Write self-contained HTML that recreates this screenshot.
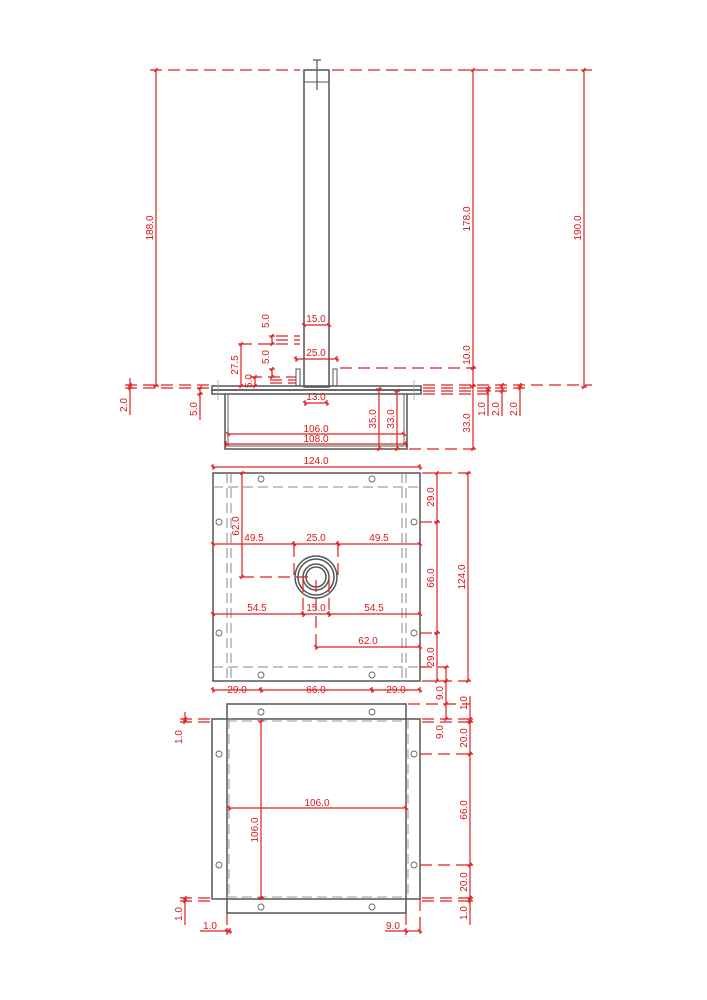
<!DOCTYPE html>
<html><head><meta charset="utf-8"><style>
html,body{margin:0;padding:0;background:#fff}
svg{display:block}
text{font-family:"Liberation Sans",sans-serif;font-size:10px;fill:#d81818}
</style></head><body>
<svg width="707" height="1000" viewBox="0 0 707 1000" xmlns="http://www.w3.org/2000/svg">
<defs>
<marker id="t" viewBox="-4 -4 8 8" markerWidth="8" markerHeight="8" markerUnits="userSpaceOnUse" orient="auto"><path d="M0,-3V3M-2,-1.5L2,1.5" stroke="#e02020" stroke-width="1.2" fill="none"/></marker>
</defs>
<g fill="none" stroke="#555" stroke-width="1.5">
<rect x="304" y="70" width="25" height="317"/>
<line x1="304" y1="82" x2="329" y2="82" stroke-width="0.9"/>
<path d="M313,60 h8 M317,60 v30" stroke-width="1.2"/>
<rect x="296" y="369" width="4" height="17" stroke-width="1"/>
<rect x="333" y="369" width="4" height="17" stroke-width="1"/>
<rect x="212" y="386" width="209" height="4"/>
<rect x="212" y="390" width="209" height="4"/>
<path d="M225,394 V449 H407 V394"/>
<line x1="228" y1="394" x2="228" y2="446" stroke-width="0.9"/>
<line x1="404" y1="394" x2="404" y2="446" stroke-width="0.9"/>
<line x1="228" y1="446" x2="404" y2="446" stroke-width="0.9"/>
<line x1="218" y1="380" x2="218" y2="400" stroke-width="0.7" stroke="#999"/>
<line x1="414" y1="380" x2="414" y2="400" stroke-width="0.7" stroke="#999"/>
<rect x="213" y="473" width="207" height="208"/>
<g stroke="#888" stroke-width="1" stroke-dasharray="10 5">
<line x1="227" y1="473" x2="227" y2="681"/><line x1="231" y1="473" x2="231" y2="681"/>
<line x1="402" y1="473" x2="402" y2="681"/><line x1="406" y1="473" x2="406" y2="681"/>
<line x1="213" y1="487" x2="420" y2="487"/><line x1="213" y1="667" x2="420" y2="667"/>
</g>
<circle cx="316" cy="577" r="21"/><circle cx="316" cy="577" r="18"/>
<circle cx="316" cy="577" r="13"/><circle cx="316" cy="577" r="10"/>
<g stroke="#666" stroke-width="0.9">
<circle cx="261" cy="479" r="3"/><circle cx="372" cy="479" r="3"/>
<circle cx="261" cy="675" r="3"/><circle cx="372" cy="675" r="3"/>
<circle cx="219" cy="522" r="3"/><circle cx="219" cy="633" r="3"/>
<circle cx="414" cy="522" r="3"/><circle cx="414" cy="633" r="3"/>
</g>
<rect x="212" y="719" width="208" height="180"/>
<rect x="227" y="704" width="179" height="209"/>
<g stroke="#999" stroke-width="1" stroke-dasharray="10 5">
<line x1="229" y1="719" x2="229" y2="899"/><line x1="408" y1="719" x2="408" y2="899"/>
<line x1="227" y1="721" x2="406" y2="721"/><line x1="227" y1="897" x2="406" y2="897"/>
</g>
<g stroke="#666" stroke-width="0.9">
<circle cx="261" cy="712" r="3"/><circle cx="372" cy="712" r="3"/>
<circle cx="261" cy="907" r="3"/><circle cx="372" cy="907" r="3"/>
<circle cx="219" cy="754" r="3"/><circle cx="219" cy="865" r="3"/>
<circle cx="414" cy="754" r="3"/><circle cx="414" cy="865" r="3"/>
</g>
</g>

<g stroke="#e02020" stroke-width="1.2" fill="none">
<g stroke-dasharray="12 6">
<line x1="150" y1="70" x2="300" y2="70"/><line x1="332" y1="70" x2="592" y2="70"/>
<line x1="125" y1="385" x2="210" y2="385"/><line x1="125" y1="388" x2="210" y2="388"/>
<line x1="240" y1="344" x2="300" y2="344"/>
<line x1="276" y1="336" x2="300" y2="336"/><line x1="276" y1="340" x2="300" y2="340"/>
<line x1="250" y1="377" x2="296" y2="377"/><line x1="270" y1="380" x2="296" y2="380"/><line x1="270" y1="383" x2="296" y2="383"/>
<line x1="340" y1="368" x2="475" y2="368"/>
<line x1="423" y1="385" x2="592" y2="385"/><line x1="423" y1="388" x2="530" y2="388"/>
<line x1="423" y1="391" x2="510" y2="391"/><line x1="423" y1="394" x2="490" y2="394"/>
<line x1="409" y1="449" x2="475" y2="449"/>
<line x1="422" y1="473" x2="470" y2="473"/><line x1="422" y1="681" x2="470" y2="681"/>
<line x1="420" y1="522" x2="436" y2="522"/><line x1="420" y1="633" x2="436" y2="633"/>
<line x1="242" y1="577" x2="310" y2="577"/>
<line x1="294" y1="545" x2="294" y2="577"/><line x1="338" y1="545" x2="338" y2="577"/>
<line x1="303" y1="610" x2="303" y2="580"/><line x1="329" y1="610" x2="329" y2="580"/>
<line x1="316" y1="580" x2="316" y2="646"/>
<line x1="420" y1="667" x2="445" y2="667"/>
<line x1="408" y1="704" x2="470" y2="704"/>
<line x1="180" y1="719" x2="210" y2="719"/><line x1="180" y1="722" x2="210" y2="722"/>
<line x1="422" y1="719" x2="470" y2="719"/><line x1="422" y1="722" x2="470" y2="722"/>
<line x1="420" y1="754" x2="470" y2="754"/><line x1="420" y1="865" x2="470" y2="865"/>
<line x1="180" y1="898" x2="210" y2="898"/><line x1="180" y1="901" x2="210" y2="901"/>
<line x1="422" y1="898" x2="470" y2="898"/><line x1="422" y1="901" x2="470" y2="901"/>
<line x1="227" y1="913" x2="227" y2="935"/><line x1="406" y1="913" x2="406" y2="935"/><line x1="420" y1="899" x2="420" y2="935"/>
</g>
<g marker-start="url(#t)" marker-end="url(#t)">
<line x1="156" y1="70" x2="156" y2="386"/>
<line x1="473" y1="70" x2="473" y2="368"/>
<line x1="473" y1="368" x2="473" y2="386"/>
<line x1="584" y1="70" x2="584" y2="387"/>
<line x1="304" y1="325" x2="329" y2="325"/>
<line x1="296" y1="359" x2="337" y2="359"/>
<line x1="305" y1="403" x2="327" y2="403"/>
<line x1="241" y1="344" x2="241" y2="386"/>
<line x1="255" y1="377" x2="255" y2="386"/>
<line x1="272" y1="336" x2="272" y2="344"/>
<line x1="272" y1="369" x2="272" y2="377"/>
<line x1="130" y1="385" x2="130" y2="388"/>
<line x1="200" y1="388" x2="200" y2="394"/>
<line x1="228" y1="434" x2="404" y2="434"/>
<line x1="226" y1="444" x2="406" y2="444"/>
<line x1="379" y1="389" x2="379" y2="449"/>
<line x1="397" y1="391" x2="397" y2="449"/>
<line x1="473" y1="386" x2="473" y2="449"/>
<line x1="488" y1="388" x2="488" y2="391"/>
<line x1="502" y1="385" x2="502" y2="391"/>
<line x1="520" y1="385" x2="520" y2="388"/>
<line x1="213" y1="467" x2="420" y2="467"/>
<line x1="242" y1="473" x2="242" y2="577"/>
<line x1="213" y1="544" x2="294" y2="544"/><line x1="294" y1="544" x2="338" y2="544"/><line x1="338" y1="544" x2="420" y2="544"/>
<line x1="213" y1="614" x2="303" y2="614"/><line x1="303" y1="614" x2="329" y2="614"/><line x1="329" y1="614" x2="420" y2="614"/>
<line x1="316" y1="647" x2="420" y2="647"/>
<line x1="437" y1="473" x2="437" y2="522"/><line x1="437" y1="522" x2="437" y2="633"/><line x1="437" y1="633" x2="437" y2="681"/>
<line x1="468" y1="473" x2="468" y2="681"/>
<line x1="213" y1="690" x2="261" y2="690"/><line x1="261" y1="690" x2="372" y2="690"/><line x1="372" y1="690" x2="420" y2="690"/>
<line x1="446" y1="667" x2="446" y2="681"/>
<line x1="446" y1="704" x2="446" y2="719"/>
<line x1="470" y1="719" x2="470" y2="722"/>
<line x1="470" y1="722" x2="470" y2="754"/><line x1="470" y1="754" x2="470" y2="865"/><line x1="470" y1="865" x2="470" y2="898"/>
<line x1="470" y1="898" x2="470" y2="901"/>
<line x1="185" y1="719" x2="185" y2="722"/><line x1="185" y1="898" x2="185" y2="901"/>
<line x1="229" y1="808" x2="406" y2="808"/>
<line x1="261" y1="721" x2="261" y2="898"/>
<line x1="227" y1="931" x2="230" y2="931"/>
<line x1="406" y1="931" x2="420" y2="931"/>
</g>
<g>
<line x1="130" y1="378" x2="130" y2="385"/><line x1="130" y1="388" x2="130" y2="415"/>
<line x1="200" y1="394" x2="200" y2="420"/>
<line x1="488" y1="391" x2="488" y2="416"/><line x1="502" y1="391" x2="502" y2="416"/><line x1="520" y1="388" x2="520" y2="416"/>
<line x1="470" y1="696" x2="470" y2="719"/><line x1="470" y1="901" x2="470" y2="925"/>
<line x1="185" y1="712" x2="185" y2="719"/><line x1="185" y1="901" x2="185" y2="925"/>
<line x1="200" y1="931" x2="227" y2="931"/><line x1="385" y1="931" x2="406" y2="931"/>
<line x1="446" y1="681" x2="446" y2="704"/>
</g>
</g>

<g>
<text x="316" y="322" text-anchor="middle">15.0</text>
<text x="316" y="356" text-anchor="middle">25.0</text>
<text x="316" y="400" text-anchor="middle">13.0</text>
<text x="316" y="432" text-anchor="middle">106.0</text>
<text x="316" y="442" text-anchor="middle">108.0</text>
<text x="316" y="464" text-anchor="middle">124.0</text>
<text x="254" y="541" text-anchor="middle">49.5</text>
<text x="316" y="541" text-anchor="middle">25.0</text>
<text x="379" y="541" text-anchor="middle">49.5</text>
<text x="257" y="611" text-anchor="middle">54.5</text>
<text x="316" y="611" text-anchor="middle">15.0</text>
<text x="374" y="611" text-anchor="middle">54.5</text>
<text x="368" y="644" text-anchor="middle">62.0</text>
<text x="237" y="693" text-anchor="middle">29.0</text>
<text x="316" y="693" text-anchor="middle">66.0</text>
<text x="396" y="693" text-anchor="middle">29.0</text>
<text x="317" y="806" text-anchor="middle">106.0</text>
<text x="210" y="929" text-anchor="middle">1.0</text>
<text x="393" y="929" text-anchor="middle">9.0</text>
<text transform="translate(153,228) rotate(-90)" text-anchor="middle">188.0</text>
<text transform="translate(470,219) rotate(-90)" text-anchor="middle">178.0</text>
<text transform="translate(470,355) rotate(-90)" text-anchor="middle">10.0</text>
<text transform="translate(581,228) rotate(-90)" text-anchor="middle">190.0</text>
<text transform="translate(238,365) rotate(-90)" text-anchor="middle">27.5</text>
<text transform="translate(252,381) rotate(-90)" text-anchor="middle">5.0</text>
<text transform="translate(269,321) rotate(-90)" text-anchor="middle">5.0</text>
<text transform="translate(269,357) rotate(-90)" text-anchor="middle">5.0</text>
<text transform="translate(127,405) rotate(-90)" text-anchor="middle">2.0</text>
<text transform="translate(197,409) rotate(-90)" text-anchor="middle">5.0</text>
<text transform="translate(376,419) rotate(-90)" text-anchor="middle">35.0</text>
<text transform="translate(394,419) rotate(-90)" text-anchor="middle">33.0</text>
<text transform="translate(470,423) rotate(-90)" text-anchor="middle">33.0</text>
<text transform="translate(485,409) rotate(-90)" text-anchor="middle">1.0</text>
<text transform="translate(499,409) rotate(-90)" text-anchor="middle">2.0</text>
<text transform="translate(517,409) rotate(-90)" text-anchor="middle">2.0</text>
<text transform="translate(239,526) rotate(-90)" text-anchor="middle">62.0</text>
<text transform="translate(434,497) rotate(-90)" text-anchor="middle">29.0</text>
<text transform="translate(434,578) rotate(-90)" text-anchor="middle">66.0</text>
<text transform="translate(434,657) rotate(-90)" text-anchor="middle">29.0</text>
<text transform="translate(465,577) rotate(-90)" text-anchor="middle">124.0</text>
<text transform="translate(443,693) rotate(-90)" text-anchor="middle">9.0</text>
<text transform="translate(443,732) rotate(-90)" text-anchor="middle">9.0</text>
<text transform="translate(467,703) rotate(-90)" text-anchor="middle">1.0</text>
<text transform="translate(467,738) rotate(-90)" text-anchor="middle">20.0</text>
<text transform="translate(467,810) rotate(-90)" text-anchor="middle">66.0</text>
<text transform="translate(467,882) rotate(-90)" text-anchor="middle">20.0</text>
<text transform="translate(467,913) rotate(-90)" text-anchor="middle">1.0</text>
<text transform="translate(182,737) rotate(-90)" text-anchor="middle">1.0</text>
<text transform="translate(182,914) rotate(-90)" text-anchor="middle">1.0</text>
<text transform="translate(258,830) rotate(-90)" text-anchor="middle">106.0</text>
</g>
</svg>
</body></html>
